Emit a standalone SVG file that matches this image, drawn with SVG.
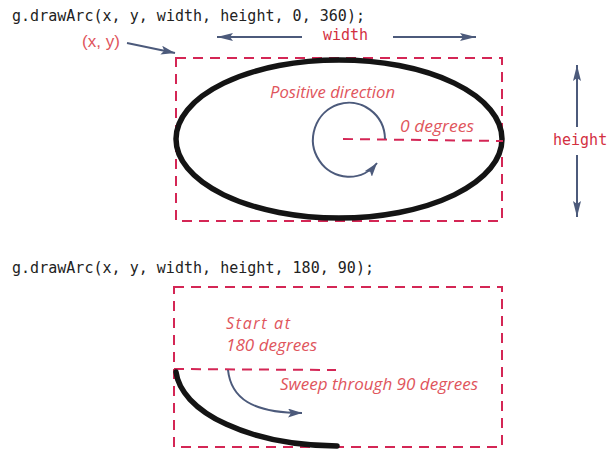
<svg xmlns="http://www.w3.org/2000/svg" width="608" height="451" viewBox="0 0 608 451">
  <style>
    .code { font-family: "DejaVu Sans Mono", "Liberation Mono", monospace; font-size: 15px; fill: #222; }
    .dim { font-family: "DejaVu Sans Mono", "Liberation Mono", monospace; font-size: 15px; fill: #d3303f; }
    .note { font-family: "Open Sans", "Liberation Sans", sans-serif; font-style: italic; font-size: 16px; fill: #e0555c; }
    .lbl { font-family: "Liberation Sans", "DejaVu Sans", sans-serif; font-size: 17px; fill: #e0555c; }
    .box { fill: none; stroke: #d42655; stroke-width: 2; stroke-dasharray: 10 7; }
    .guide { fill: none; stroke: #d42655; stroke-width: 2; stroke-dasharray: 10 7; }
    .arc { fill: none; stroke: #141414; stroke-width: 5.5; stroke-linecap: round; }
    .ptr { fill: none; stroke: #4c5a7b; stroke-width: 2; }
  </style>
  <defs>
    <marker id="head" viewBox="0 0 16 8" refX="16" refY="4" markerWidth="16" markerHeight="8" markerUnits="userSpaceOnUse" orient="auto">
      <path d="M0,0 L16,4 L0,8 L3,4 Z" fill="#4c5a7b"/>
    </marker>
    <marker id="headS" viewBox="0 0 14 9" refX="14" refY="4.5" markerWidth="14" markerHeight="9" markerUnits="userSpaceOnUse" orient="auto">
      <path d="M0,0 L14,4.5 L0,9 L3,4.5 Z" fill="#4c5a7b"/>
    </marker>
  </defs>

  <!-- full ellipse: drawArc(x, y, width, height, 0, 360) -->
  <g id="full-arc">
    <text class="code" x="12" y="21" textLength="353">g.drawArc(x, y, width, height, 0, 360);</text>
    <rect class="box" x="176" y="58" width="326" height="163"/>
    <ellipse class="arc" cx="339" cy="139" rx="163" ry="79"/>
    <text class="lbl" x="82" y="47" textLength="38">(x, y)</text>
    <text class="dim" x="323" y="40">width</text>
    <text class="dim" x="553" y="145">height</text>
    <text class="note" x="270" y="98" textLength="125" lengthAdjust="spacingAndGlyphs">Positive direction</text>
    <text class="note" x="400" y="132" textLength="74" lengthAdjust="spacingAndGlyphs">0 degrees</text>
    <path class="guide" d="M343,139 L503,141"/>
  </g>

  <!-- quarter arc: drawArc(x, y, width, height, 180, 90) -->
  <g id="quarter-arc">
    <text class="code" x="12" y="273" textLength="362">g.drawArc(x, y, width, height, 180, 90);</text>
    <rect class="box" x="174" y="287" width="328" height="160"/>
    <path class="guide" d="M174,369 L336,370"/>
    <path class="arc" d="M176,372 A163,79 0 0 0 337,446"/>
    <text class="note" x="226" y="329" textLength="64" lengthAdjust="spacing">Start at</text>
    <text class="note" x="226" y="351" textLength="91" lengthAdjust="spacingAndGlyphs">180 degrees</text>
    <text class="note" x="280" y="390" textLength="198" lengthAdjust="spacingAndGlyphs">Sweep through 90 degrees</text>
  </g>

  <g id="connectors">
    <path class="ptr" d="M127,43 L175,53" marker-end="url(#headS)"/>
    <path class="ptr" d="M302,37 L217,37" marker-end="url(#head)"/>
    <path class="ptr" d="M393,37 L476,37" marker-end="url(#head)"/>
    <path class="ptr" d="M577,127 L577,65" marker-end="url(#head)"/>
    <path class="ptr" d="M577,155 L577,217" marker-end="url(#head)"/>
    <path class="ptr" d="M385,139 A36,37 0 1 0 377,163" marker-end="url(#headS)"/>
    <path class="ptr" d="M228,370 C231,398 252,413 302,413" marker-end="url(#headS)"/>
  </g>
</svg>
